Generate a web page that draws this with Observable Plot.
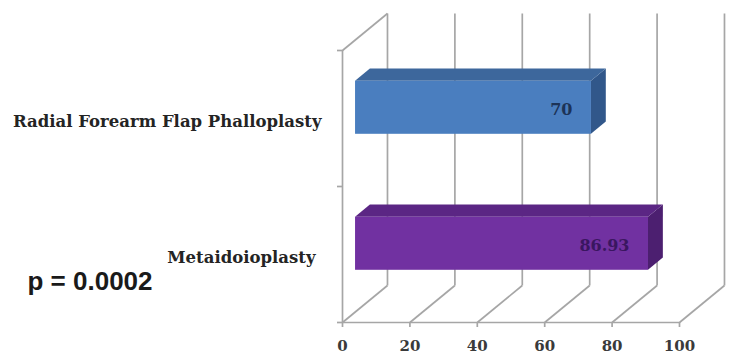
<!DOCTYPE html>
<html>
<head>
<meta charset="utf-8">
<script src="https://cdn.jsdelivr.net/npm/d3@7"></script>
<script src="https://cdn.jsdelivr.net/npm/@observablehq/plot@0.6"></script>
<style>
  html, body { margin: 0; padding: 0; background: #fff; }
  #chart { position: relative; width: 729px; height: 359px; }
</style>
</head>
<body>
<div id="chart"></div>
<script>
// Procedures and their scores
const categories = ["Radial Forearm Flap Phalloplasty", "Metaidoioplasty"];
const values = [70, 86.93];
const labels = ["70", "86.93"];
const xTicks = [0, 20, 40, 60, 80, 100];
const pValue = "p = 0.0002";

// Bar colours: front, top, side
const frontColors = ["#4a7ebf", "#7131a1"];
const topColors = ["#3d679c", "#5b2684"];
const sideColors = ["#31578a", "#4c1f70"];
const labelColors = ["#1c3357", "#3a1660"];

// Depth of the 3-D box, in scale units (x units, band units)
const DX = 13.35, DY = 0.272;
// Bar sits between these fractions of the depth; half its height in band units
const F0 = 0.29, F1 = 0.62, H = 0.195;

const serif = "'DejaVu Serif', serif";

const bars = categories.map((name, i) => ({
  name, i, value: values[i], label: labels[i],
  front: frontColors[i], top: topColors[i], side: sideColors[i], ink: labelColors[i],
  yTop: i + 0.5 - H, yBot: i + 0.5 + H
}));

const grid = "#a6a6a6";

const marks = [
  // back wall verticals
  Plot.link(xTicks, {x1: t => t + DX, x2: t => t + DX, y1: -DY, y2: 2 - DY, stroke: grid, strokeWidth: 1.7}),
  // floor diagonals
  Plot.link(xTicks, {x1: t => t, y1: 2, x2: t => t + DX, y2: 2 - DY, stroke: grid, strokeWidth: 1.7}),
  // left wall: front edge and top diagonal
  Plot.ruleX([0], {stroke: grid, strokeWidth: 1.7}),
  Plot.link([0], {x1: 0, y1: 0, x2: DX, y2: -DY, stroke: grid, strokeWidth: 1.7}),
  // floor front edge
  Plot.ruleY([2], {stroke: grid, strokeWidth: 1.7}),
];

for (const b of bars) {
  // side face
  marks.push(Plot.areaY([
    {x: b.value + F0 * DX, y1: b.yTop - F0 * DY, y2: b.yBot - F0 * DY},
    {x: b.value + F1 * DX, y1: b.yTop - F1 * DY, y2: b.yBot - F1 * DY}
  ], {x: "x", y1: "y1", y2: "y2", fill: b.side}));
  // top face
  marks.push(Plot.areaX([
    {y: b.yTop - F0 * DY, x1: F0 * DX, x2: b.value + F0 * DX},
    {y: b.yTop - F1 * DY, x1: F1 * DX, x2: b.value + F1 * DX}
  ], {y: "y", x1: "x1", x2: "x2", fill: b.top}));
  // front face
  marks.push(Plot.rect([b], {
    x1: F0 * DX, x2: d => d.value + F0 * DX,
    y1: d => d.yTop - F0 * DY, y2: d => d.yBot - F0 * DY,
    fill: b.front
  }));
  // value label
  marks.push(Plot.text([b], {
    x: d => d.value + F0 * DX, y: d => d.i + 0.5 - F0 * DY,
    text: "label", textAnchor: "end", dx: -19, dy: 2,
    fill: b.ink, fontSize: 16, fontWeight: "bold", fontFamily: serif
  }));
}

// category labels, one per band
const categoryPadding = [21, 27];
categories.forEach((name, i) => marks.push(Plot.axisY({
  ticks: [i + 0.5], tickFormat: () => name,
  tickSize: 0, tickPadding: categoryPadding[i], dy: 3,
  fontSize: 16.5, fontWeight: "bold", fill: "#242424", fontFamily: serif
})));

marks.push(
  // category separators on the left wall
  Plot.axisY({ticks: [0, 1, 2], tickFormat: () => "", tickSize: 5, stroke: grid, strokeWidth: 1.7}),
  // value axis
  Plot.axisX({
    ticks: xTicks, tickSize: 5, tickPadding: 13, stroke: grid, strokeWidth: 1.7,
    fontSize: 15, fontWeight: "bold", fill: "#3a3a3a", fontFamily: serif
  }),
  // significance note
  Plot.text([pValue], {
    frameAnchor: "bottom-left", text: d => d, textAnchor: "start",
    dx: -315, dy: -33, fontSize: 26, fontWeight: "bold", fill: "#1a1a1a",
    fontFamily: "'Liberation Sans', sans-serif"
  })
);

const chart = Plot.plot({
  width: 729,
  height: 359,
  marginLeft: 342,
  marginRight: 50,
  marginTop: 50,
  marginBottom: 37,
  x: {domain: [0, 100]},
  y: {domain: [0, 2], range: [50, 322]},
  style: {background: "#fff", overflow: "visible"},
  marks
});

document.getElementById("chart").append(chart);
</script>
</body>
</html>
